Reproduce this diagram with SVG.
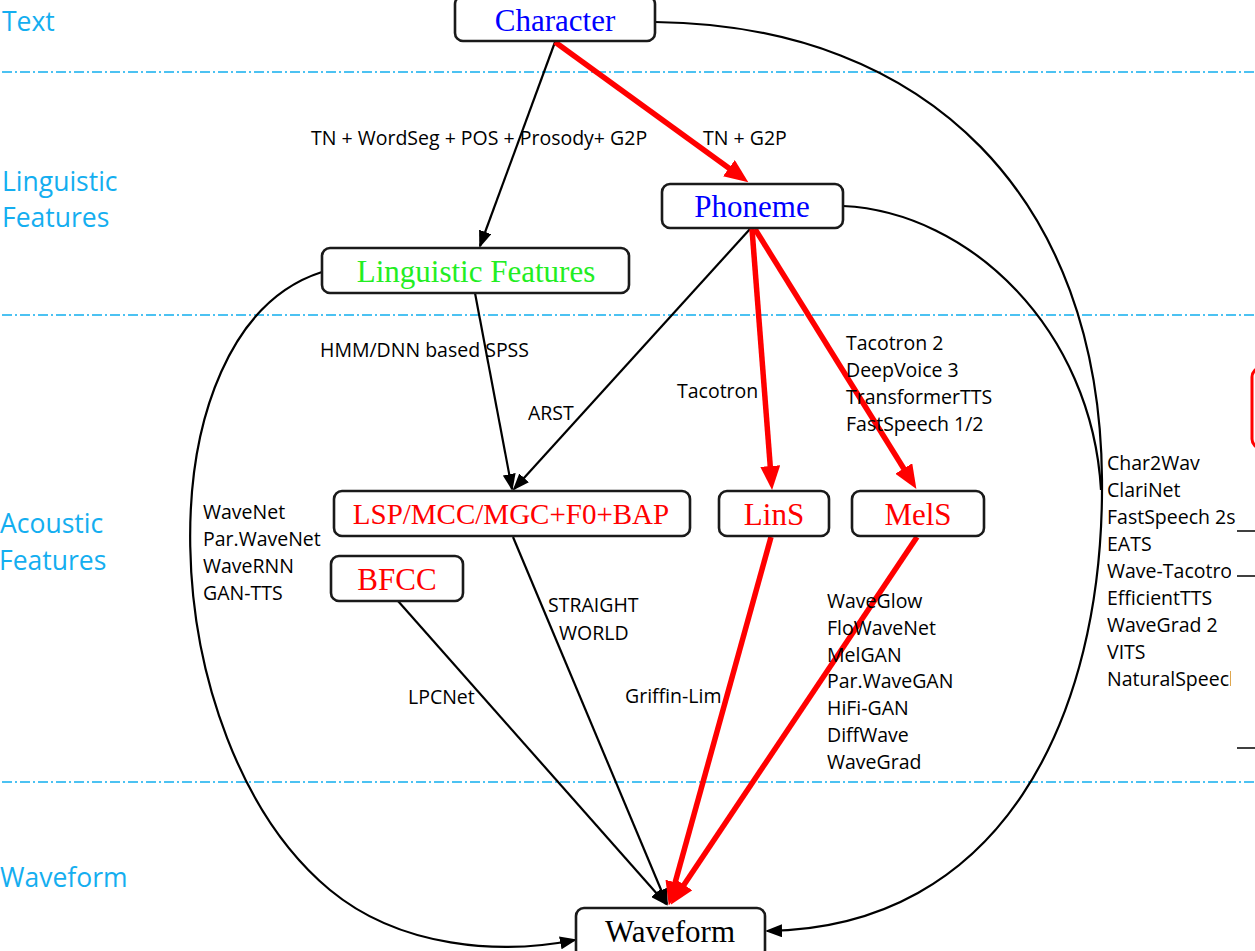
<svg xmlns="http://www.w3.org/2000/svg" width="1255" height="951" viewBox="0 0 1255 951">
  <style>
    .band { fill: #14AEF0; font-family: "Open Sans", "Noto Sans", sans-serif; font-size: 26.5px; }
    .sep { stroke: #4CC2F2; stroke-width: 1.8; stroke-dasharray: 10 3 2 3; fill: none; }
    .box { fill: #fff; stroke: #1a1a1a; stroke-width: 2.6; }
    .nt { font-family: "Liberation Serif", "Times New Roman", serif; font-size: 31px; text-anchor: middle; }
    .lbl { fill: #000; font-family: "Open Sans", "Noto Sans", sans-serif; font-size: 19.5px; }
    .blk { stroke: #000; stroke-width: 2.2; fill: none; }
    .red { stroke: #ff0000; stroke-width: 5.5; fill: none; }
  </style>
  <defs>
    <marker id="ah" markerUnits="userSpaceOnUse" markerWidth="17" markerHeight="13" refX="15" refY="6.5" orient="auto">
      <path d="M0,0 L17,6.5 L0,13 z" fill="#000"/>
    </marker>
    <marker id="ahr" markerUnits="userSpaceOnUse" markerWidth="24" markerHeight="20" refX="10" refY="10" orient="auto">
      <path d="M0,0 L24,10 L0,20 z" fill="#ff0000"/>
    </marker>
    <clipPath id="rightCol">
      <rect x="1090" y="440" width="141" height="270"/>
    </clipPath>
  </defs>

  <rect width="1255" height="951" fill="#fff"/>

  <!-- layer separators -->
  <g id="separators">
    <line class="sep" x1="2" y1="72" x2="1255" y2="72"/>
    <line class="sep" x1="2" y1="315" x2="1255" y2="315"/>
    <line class="sep" x1="2" y1="782" x2="1255" y2="782"/>
  </g>

  <!-- layer titles -->
  <g id="layer-titles">
    <text class="band" x="2" y="31">Text</text>
    <text class="band" x="2" y="191">Linguistic</text>
    <text class="band" x="2" y="227">Features</text>
    <text class="band" x="0" y="533">Acoustic</text>
    <text class="band" x="-1" y="570">Features</text>
    <text class="band" x="0" y="887">Waveform</text>
  </g>

  <!-- connectors -->
  <g id="connectors">
    <!-- long curves -->
    <path class="blk" d="M655,22 C930,25 1100,200 1102,480 C1104,720 1000,928 767,931" marker-end="url(#ah)"/>
    <path class="blk" d="M843,206 C970,212 1092,330 1101,490"/>
    <path class="blk" d="M322,272 C140,330 150,740 330,890 C400,948 500,955 575,940" marker-end="url(#ah)"/>
    <!-- straight black arrows -->
    <line class="blk" x1="555" y1="42" x2="480" y2="246" marker-end="url(#ah)"/>
    <line class="blk" x1="475" y1="293" x2="512" y2="489" marker-end="url(#ah)"/>
    <line class="blk" x1="750" y1="229" x2="514" y2="489" marker-end="url(#ah)"/>
    <line class="blk" x1="513" y1="537" x2="667" y2="904" marker-end="url(#ah)"/>
    <line class="blk" x1="398" y1="601" x2="666" y2="904" marker-end="url(#ah)"/>
    <!-- red main path -->
    <line class="red" x1="555" y1="42" x2="737" y2="174" marker-end="url(#ahr)"/>
    <line class="red" x1="752" y1="229" x2="771" y2="476" marker-end="url(#ahr)"/>
    <line class="red" x1="755" y1="229" x2="909" y2="477" marker-end="url(#ahr)"/>
    <line class="red" x1="771" y1="537" x2="672.5" y2="892" marker-end="url(#ahr)"/>
    <line class="red" x1="917" y1="537" x2="678.5" y2="893" marker-end="url(#ahr)"/>
  </g>

  <!-- connector labels -->
  <g id="labels">
    <text class="lbl" x="311" y="145">TN + WordSeg + POS + Prosody+ G2P</text>
    <text class="lbl" x="703" y="145">TN + G2P</text>
    <text class="lbl" x="320" y="357">HMM/DNN based SPSS</text>
    <text class="lbl" x="528" y="420">ARST</text>
    <text class="lbl" x="677" y="398">Tacotron</text>
    <text class="lbl" x="846" y="350">Tacotron 2</text>
    <text class="lbl" x="846" y="377">DeepVoice 3</text>
    <text class="lbl" x="846" y="404">TransformerTTS</text>
    <text class="lbl" x="846" y="431">FastSpeech 1/2</text>
    <text class="lbl" x="203" y="519">WaveNet</text>
    <text class="lbl" x="203" y="546">Par.WaveNet</text>
    <text class="lbl" x="203" y="573">WaveRNN</text>
    <text class="lbl" x="203" y="600">GAN-TTS</text>
    <text class="lbl" x="548" y="612">STRAIGHT</text>
    <text class="lbl" x="559" y="640">WORLD</text>
    <text class="lbl" x="408" y="704">LPCNet</text>
    <text class="lbl" x="625" y="703">Griffin-Lim</text>
    <text class="lbl" x="827" y="608">WaveGlow</text>
    <text class="lbl" x="827" y="635">FloWaveNet</text>
    <text class="lbl" x="827" y="662">MelGAN</text>
    <text class="lbl" x="827" y="688">Par.WaveGAN</text>
    <text class="lbl" x="827" y="715">HiFi-GAN</text>
    <text class="lbl" x="827" y="742">DiffWave</text>
    <text class="lbl" x="827" y="769">WaveGrad</text>
    <text class="lbl" x="1107" y="470">Char2Wav</text>
    <text class="lbl" x="1107" y="497">ClariNet</text>
    <text class="lbl" x="1107" y="524">FastSpeech 2s</text>
    <text class="lbl" x="1107" y="551">EATS</text>
    <text class="lbl" x="1107" y="578" clip-path="url(#rightCol)">Wave-Tacotron</text>
    <text class="lbl" x="1107" y="605">EfficientTTS</text>
    <text class="lbl" x="1107" y="632">WaveGrad 2</text>
    <text class="lbl" x="1107" y="659">VITS</text>
    <text class="lbl" x="1107" y="686" clip-path="url(#rightCol)">NaturalSpeech</text>
  </g>

  <!-- right margin fragments -->
  <g id="margin">
    <rect x="1252" y="368" width="40" height="80" rx="9" fill="none" stroke="#ff0000" stroke-width="3"/>
    <line x1="1237" y1="531" x2="1255" y2="531" stroke="#000" stroke-width="1.5"/>
    <line x1="1237" y1="576" x2="1255" y2="576" stroke="#000" stroke-width="1.5"/>
    <line x1="1237" y1="748" x2="1255" y2="748" stroke="#000" stroke-width="1.5"/>
  </g>

  <!-- nodes -->
  <g id="node-character">
    <rect class="box" x="455" y="-4" width="200" height="45" rx="8"/>
    <text class="nt" x="555" y="31" fill="#0000ff">Character</text>
  </g>
  <g id="node-phoneme">
    <rect class="box" x="662" y="184" width="181" height="44" rx="8"/>
    <text class="nt" x="752" y="217" fill="#0000ff">Phoneme</text>
  </g>
  <g id="node-linguistic">
    <rect class="box" x="322" y="248" width="307" height="45" rx="8"/>
    <text class="nt" x="476" y="282" fill="#22ee22">Linguistic Features</text>
  </g>
  <g id="node-vocoder-params">
    <rect class="box" x="334" y="491" width="356" height="45" rx="8"/>
    <text class="nt" x="511" y="524" fill="#ff0000" style="font-size:29px">LSP/MCC/MGC+F0+BAP</text>
  </g>
  <g id="node-bfcc">
    <rect class="box" x="331" y="556" width="132" height="45" rx="8"/>
    <text class="nt" x="397" y="590" fill="#ff0000">BFCC</text>
  </g>
  <g id="node-lins">
    <rect class="box" x="719" y="491" width="110" height="45" rx="8"/>
    <text class="nt" x="774" y="525" fill="#ff0000">LinS</text>
  </g>
  <g id="node-mels">
    <rect class="box" x="852" y="491" width="132" height="45" rx="8"/>
    <text class="nt" x="918" y="525" fill="#ff0000">MelS</text>
  </g>
  <g id="node-waveform">
    <rect class="box" x="576" y="908" width="189" height="50" rx="8"/>
    <text class="nt" x="670" y="942" fill="#000">Waveform</text>
  </g>
</svg>
